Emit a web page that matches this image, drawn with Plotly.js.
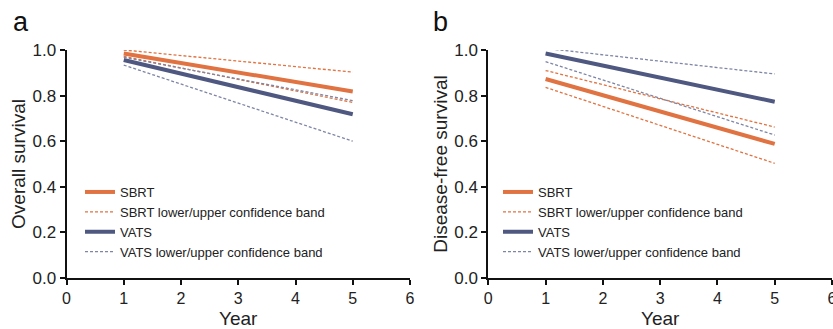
<!DOCTYPE html>
<html>
<head>
<meta charset="utf-8">
<script src="https://cdn.plot.ly/plotly-3.0.1.min.js"></script>
<style>html,body{margin:0;padding:0;background:#fff;}#chart{width:833px;height:329px;}</style>
</head>
<body>
<div id="chart"></div>
<script>
// Data
const years = [1, 5];
// Panel a: Overall survival
const osSBRT = [0.985, 0.818];
const osSBRTLower = [0.972, 0.770];
const osSBRTUpper = [1.000, 0.903];
const osVATS = [0.956, 0.718];
const osVATSLower = [0.934, 0.600];
const osVATSUpper = [0.968, 0.778];
// Panel b: Disease-free survival
const dfsSBRT = [0.873, 0.588];
const dfsSBRTLower = [0.836, 0.503];
const dfsSBRTUpper = [0.910, 0.662];
const dfsVATS = [0.985, 0.773];
const dfsVATSLower = [0.949, 0.627];
const dfsVATSUpper = [1.007, 0.895];
const xTicks = [0, 1, 2, 3, 4, 5, 6];
const yTicks = [0, 0.2, 0.4, 0.6, 0.8, 1.0];
const yTickText = ['0.0', '0.2', '0.4', '0.6', '0.8', '1.0'];
const seriesNames = ['SBRT', 'SBRT lower/upper confidence band', 'VATS', 'VATS lower/upper confidence band'];

const ORANGE = '#E07341';
const NAVY = '#4E5880';
const FONT = 'Liberation Sans, Arial, sans-serif';

function band(lower, upper) {
  return { x: years.concat([null]).concat(years), y: lower.concat([null]).concat(upper) };
}

function panelTraces(sb, sbL, sbU, va, vaL, vaU, xa, ya, leg) {
  const b1 = band(sbL, sbU), b2 = band(vaL, vaU);
  return [
    {x: years, y: sb, name: seriesNames[0], mode: 'lines', line: {color: ORANGE, width: 4}, xaxis: xa, yaxis: ya, legend: leg, legendgroup: leg + 's'},
    {x: b1.x, y: b1.y, name: seriesNames[1], mode: 'lines', connectgaps: false, line: {color: ORANGE, width: 1.3, dash: '3px,2px'}, xaxis: xa, yaxis: ya, legend: leg, legendgroup: leg + 's'},
    {x: years, y: va, name: seriesNames[2], mode: 'lines', line: {color: NAVY, width: 4}, xaxis: xa, yaxis: ya, legend: leg, legendgroup: leg + 'v'},
    {x: b2.x, y: b2.y, name: seriesNames[3], mode: 'lines', connectgaps: false, line: {color: '#7E86A6', width: 1.3, dash: '3px,2px'}, xaxis: xa, yaxis: ya, legend: leg, legendgroup: leg + 'v'}
  ];
}

const data = panelTraces(osSBRT, osSBRTLower, osSBRTUpper, osVATS, osVATSLower, osVATSUpper, 'x', 'y', 'legend')
  .concat(panelTraces(dfsSBRT, dfsSBRTLower, dfsSBRTUpper, dfsVATS, dfsVATSLower, dfsVATSUpper, 'x2', 'y2', 'legend2'));

const W = 833, H = 329;
function xAxis(d0, d1, anchor) {
  return {
    domain: [d0 / W, d1 / W], anchor: anchor, range: [0, 6], tickvals: xTicks,
    showline: true, linecolor: '#111', linewidth: 2, ticks: 'outside', ticklen: 5, tickwidth: 2, tickcolor: '#111',
    showgrid: false, zeroline: false, ticklabeloverflow: 'allow', tickfont: {family: FONT, size: 16, color: '#222'},
    title: {text: 'Year', font: {family: FONT, size: 19, color: '#222'}, standoff: 6}
  };
}
function yAxis(anchor, title) {
  return {
    domain: [(H - 278) / H, (H - 50) / H], anchor: anchor, range: [0, 1], tickvals: yTicks, ticktext: yTickText,
    showline: true, linecolor: '#111', linewidth: 2, ticks: 'outside', ticklen: 5, tickwidth: 2, tickcolor: '#111',
    showgrid: false, zeroline: false, tickfont: {family: FONT, size: 17, color: '#222'},
    title: {text: title, font: {family: FONT, size: 19, color: '#222'}, standoff: 2}
  };
}
function legendAt(px, py) {
  return {x: px / W, y: (H - py) / H, xanchor: 'left', yanchor: 'top', bgcolor: 'rgba(0,0,0,0)',
    font: {family: FONT, size: 13, color: '#222'}, traceorder: 'grouped', tracegroupgap: 0, itemwidth: 30};
}

const layout = {
  width: W, height: H, margin: {l: 0, r: 0, t: 0, b: 0},
  paper_bgcolor: '#fff', plot_bgcolor: '#fff', showlegend: true,
  xaxis: xAxis(66.5, 410, 'y'),
  yaxis: yAxis('x', 'Overall survival'),
  xaxis2: xAxis(488.3, 832, 'y2'),
  yaxis2: yAxis('x2', 'Disease-free survival'),
  legend: legendAt(80, 177),
  legend2: legendAt(498, 177),
  annotations: [
    {text: 'a', x: 21 / W, y: (H - 22) / H, xref: 'paper', yref: 'paper', xanchor: 'center', yanchor: 'middle', showarrow: false, font: {family: FONT, size: 27, color: '#111'}},
    {text: 'b', x: 440 / W, y: (H - 22) / H, xref: 'paper', yref: 'paper', xanchor: 'center', yanchor: 'middle', showarrow: false, font: {family: FONT, size: 27, color: '#111'}}
  ]
};

Plotly.newPlot('chart', data, layout, {staticPlot: true, displayModeBar: false});
</script>
</body>
</html>
